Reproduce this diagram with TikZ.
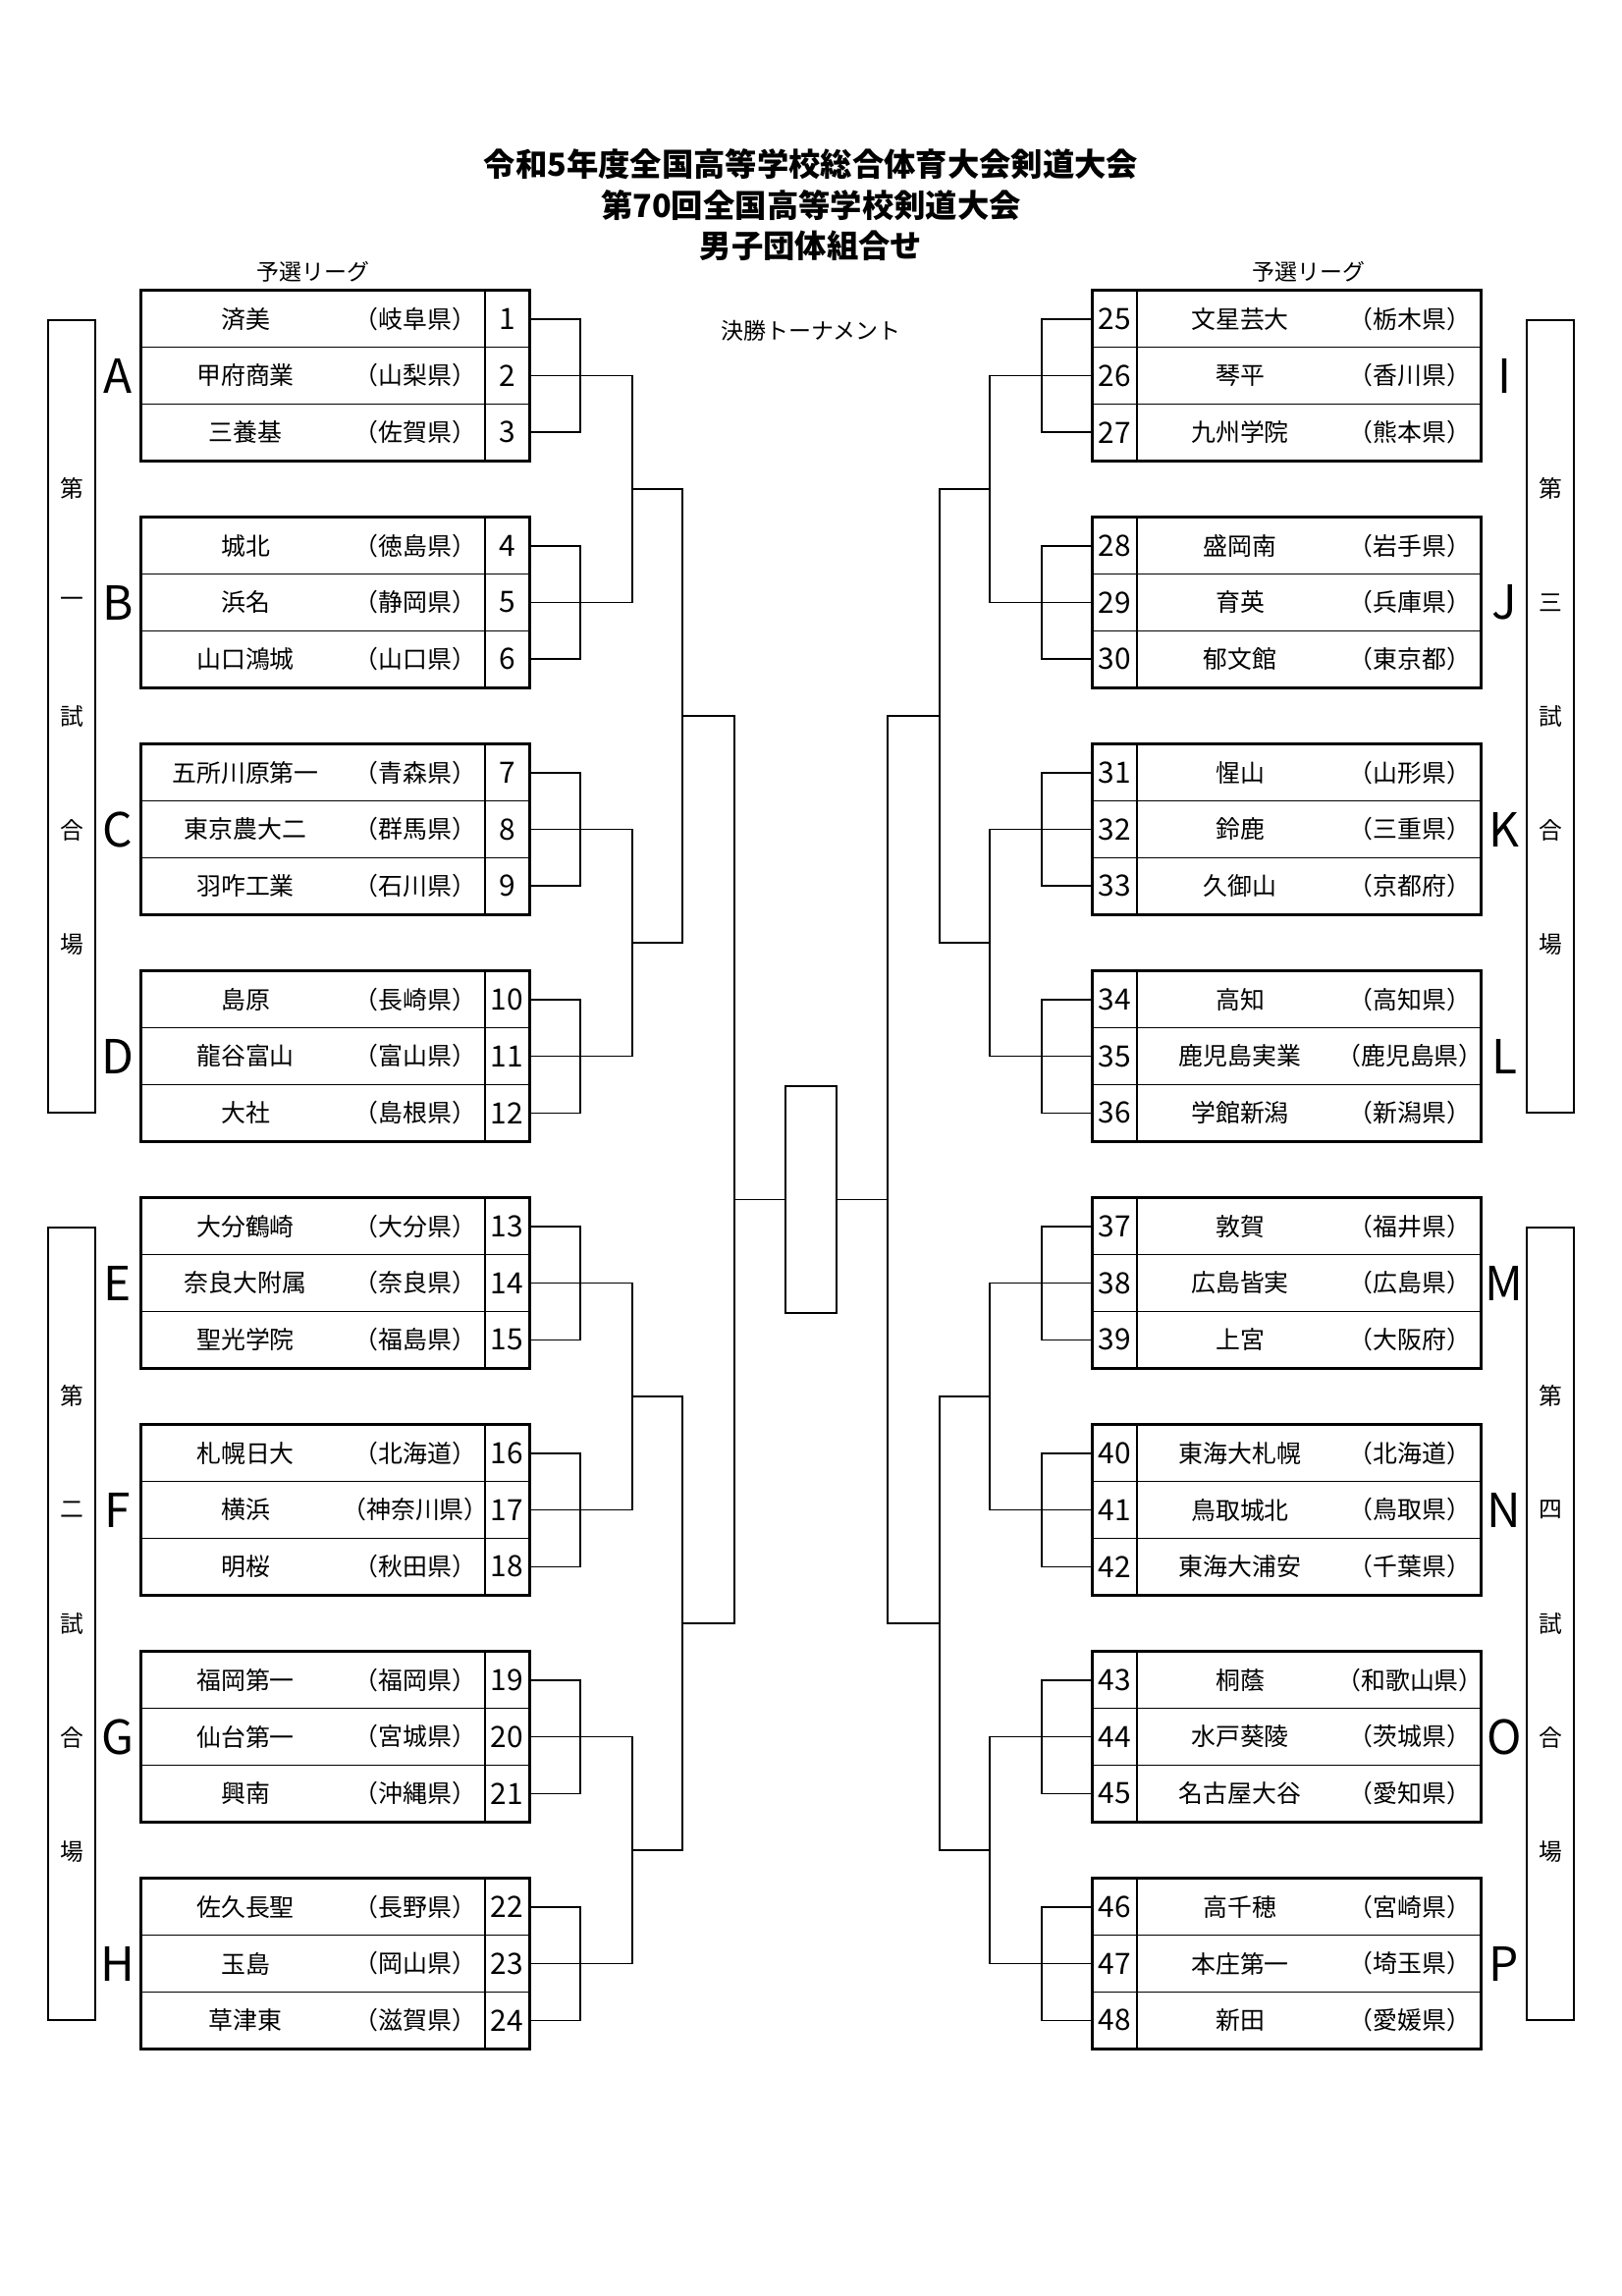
\documentclass[tikz,border=0pt]{standalone}
\usepackage{fontspec}
\setmainfont{Noto Sans CJK JP}

\newlength\pxu
\setlength\pxu{0.127119mm}

\begin{document}
\begin{tikzpicture}[x=0.127119mm,y=-0.127119mm,
	cell/.style={draw,line width=0.45pt,inner sep=0pt,minimum height=57.67\pxu},
	namecell/.style={cell,minimum width=350\pxu},
	numcell/.style={cell,minimum width=45\pxu,font=\fontsize{10.8}{12}\selectfont},
	school/.style={inner sep=0pt,font=\fontsize{9}{10}\selectfont},
	groupbox/.style={draw,line width=0.9pt},
	wire/.style={line width=0.5pt},
	grp/.style={inner sep=0pt,font=\fontsize{17.3}{18}\selectfont},
	venuebox/.style={draw,line width=0.45pt,minimum width=48\pxu,minimum height=807\pxu},
	venue/.style={inner sep=0pt,font=\fontsize{8.6}{9}\selectfont},
	label/.style={inner sep=0pt,font=\fontsize{8.3}{9}\selectfont},
	finalbox/.style={draw,line width=0.5pt,minimum width=52\pxu,minimum height=231\pxu}]

	\useasboundingbox (0,0) rectangle (1652,2338);

	\node [align=center,font=\bfseries\fontsize{11.7}{15}\selectfont] (title) at (826,209)
		{令和5年度全国高等学校総合体育大会剣道大会\\第70回全国高等学校剣道大会\\男子団体組合せ};
	\node [label]	(league1)	at (319,277)	{予選リーグ};
	\node [label]	(league2)	at (1333,277)	{予選リーグ};
	\node [label]	(tourney)	at (826,337)	{決勝トーナメント};

	\foreach \k/\nm/\pf in {1/済美/岐阜県,2/甲府商業/山梨県,3/三養基/佐賀県,
			4/城北/徳島県,5/浜名/静岡県,6/山口鴻城/山口県,
			7/五所川原第一/青森県,8/東京農大二/群馬県,9/羽咋工業/石川県,
			10/島原/長崎県,11/龍谷富山/富山県,12/大社/島根県,
			13/大分鶴崎/大分県,14/奈良大附属/奈良県,15/聖光学院/福島県,
			16/札幌日大/北海道,17/横浜/神奈川県,18/明桜/秋田県,
			19/福岡第一/福岡県,20/仙台第一/宮城県,21/興南/沖縄県,
			22/佐久長聖/長野県,23/玉島/岡山県,24/草津東/滋賀県} {
		\pgfmathsetmacro\yy{296+231*int((\k-1)/3)+57.67*(mod(\k-1,3)+0.5)}
		\node [namecell]	(s\k)	at (319,\yy)	{};
		\node [numcell]		(t\k)	at (516.5,\yy)	{\k};
		\node [school]		(a\k)	at (250,\yy)	{\nm};
		\node [school]		(p\k)	at (423,\yy)	{（\pf）};
	}

	\foreach \k/\nm/\pf in {25/文星芸大/栃木県,26/琴平/香川県,27/九州学院/熊本県,
			28/盛岡南/岩手県,29/育英/兵庫県,30/郁文館/東京都,
			31/惺山/山形県,32/鈴鹿/三重県,33/久御山/京都府,
			34/高知/高知県,35/鹿児島実業/鹿児島県,36/学館新潟/新潟県,
			37/敦賀/福井県,38/広島皆実/広島県,39/上宮/大阪府,
			40/東海大札幌/北海道,41/鳥取城北/鳥取県,42/東海大浦安/千葉県,
			43/桐蔭/和歌山県,44/水戸葵陵/茨城県,45/名古屋大谷/愛知県,
			46/高千穂/宮崎県,47/本庄第一/埼玉県,48/新田/愛媛県} {
		\pgfmathsetmacro\yy{296+231*int((\k-25)/3)+57.67*(mod(\k-25,3)+0.5)}
		\node [namecell]	(s\k)	at (1333,\yy)	{};
		\node [numcell]		(t\k)	at (1135.5,\yy)	{\k};
		\node [school]		(a\k)	at (1263,\yy)	{\nm};
		\node [school]		(p\k)	at (1436,\yy)	{（\pf）};
	}

	\foreach \l [count=\i from 0] in {A,B,C,D,E,F,G,H}
		\node [grp]	(g\l)	at (120,382.5+231*\i)	{\l};
	\foreach \l [count=\i from 0] in {I,J,K,L,M,N,O,P}
		\node [grp]	(g\l)	at (1532,382.5+231*\i)	{\l};

	\foreach \vn/\vx/\vy/\n in {1/73/729.5/一,2/73/1653.5/二,3/1579/729.5/三,4/1579/1653.5/四} {
		\node [venuebox]	(vb\vn)	at (\vx,\vy)	{};
		\foreach \c [count=\i] in {第,\n,試,合,場}
			\node [venue]	(vc\vn\i)	at (\vx,\vy+116*\i-348)	{\c};
	}

	\foreach \g in {0,...,7} {
		\pgfmathtruncatemacro\ta{3*\g+1}
		\pgfmathtruncatemacro\tc{3*\g+3}
		\pgfmathtruncatemacro\ra{3*\g+25}
		\pgfmathtruncatemacro\rc{3*\g+27}
		\pgfmathsetmacro\yb{382.5+231*\g}
		\draw [groupbox]	(s\ta.north west) rectangle (t\tc.south east);
		\draw [groupbox]	(t\ra.north west) rectangle (s\rc.south east);
		\coordinate (ul\g) at (591,\yb);
		\coordinate (ur\g) at (1061,\yb);
		\draw [wire]	(t\ta.east) -| (ul\g) |- (t\tc.east);
		\draw [wire]	(t\ra.west) -| (ur\g) |- (t\rc.west);
	}

	\foreach \p in {0,...,3} {
		\pgfmathtruncatemacro\ba{6*\p+2}
		\pgfmathtruncatemacro\bb{6*\p+5}
		\pgfmathtruncatemacro\ra{6*\p+26}
		\pgfmathtruncatemacro\rb{6*\p+29}
		\pgfmathsetmacro\ym{498+462*\p}
		\coordinate (ml\p) at (644,\ym);
		\coordinate (mr\p) at (1008,\ym);
		\draw [wire]	(t\ba.east) -| (ml\p) |- (t\bb.east);
		\draw [wire]	(t\ra.west) -| (mr\p) |- (t\rb.west);
	}

	\foreach \q in {0,1} {
		\pgfmathtruncatemacro\pa{2*\q}
		\pgfmathtruncatemacro\pb{2*\q+1}
		\pgfmathsetmacro\yh{729+924*\q}
		\coordinate (hl\q) at (695,\yh);
		\coordinate (hr\q) at (957,\yh);
		\draw [wire]	(ml\pa) -| (hl\q) |- (ml\pb);
		\draw [wire]	(mr\pa) -| (hr\q) |- (mr\pb);
	}

	\node [finalbox]	(fin)	at (826,1221.5)	{};
	\coordinate (cl) at (748,1221.5);
	\coordinate (cr) at (904,1221.5);
	\draw [wire]	(hl0) -| (cl) |- (hl1);
	\draw [wire]	(hr0) -| (cr) |- (hr1);
	\draw [wire]	(cl) -- (fin.west);
	\draw [wire]	(cr) -- (fin.east);

\end{tikzpicture}
\end{document}
